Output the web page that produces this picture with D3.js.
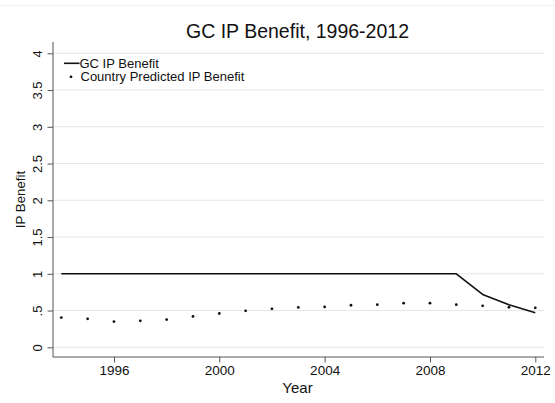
<!DOCTYPE html>
<html>
<head>
<meta charset="utf-8">
<script src="https://cdn.jsdelivr.net/npm/d3@7"></script>
<style>
  html, body { margin: 0; padding: 0; background: #fff; }
  svg { display: block; font-family: "Liberation Sans", Arial, Helvetica, sans-serif; }
</style>
</head>
<body>
<svg id="chart" width="555" height="403"></svg>
<script>
// Annual series, 1994-2012
const years = [1994, 1995, 1996, 1997, 1998, 1999, 2000, 2001, 2002, 2003,
               2004, 2005, 2006, 2007, 2008, 2009, 2010, 2011, 2012];
const gcBenefit = [1, 1, 1, 1, 1, 1, 1, 1, 1, 1,
                   1, 1, 1, 1, 1, 1, 0.72, 0.58, 0.47];
const countryPredicted = [0.405, 0.387, 0.35, 0.36, 0.377, 0.42, 0.46, 0.496, 0.523, 0.543,
                          0.55, 0.572, 0.58, 0.6, 0.6, 0.58, 0.564, 0.545, 0.537];
const xTicks = [1996, 2000, 2004, 2008, 2012];
const yTicks = [0, 0.5, 1, 1.5, 2, 2.5, 3, 3.5, 4];
const yTickLabels = ["0", ".5", "1", "1.5", "2", "2.5", "3", "3.5", "4"];
const legendLabels = ["GC IP Benefit", "Country Predicted IP Benefit"];
const titleText = "GC IP Benefit, 1996-2012";
const xTitle = "Year";
const yTitle = "IP Benefit";

const svg = d3.select("#chart");
const W = 555, H = 403;
const plot = { left: 53, right: 544, top: 42, bottom: 357 };

const x = d3.scaleLinear().domain([1994, 2012]).range([61.3, 535.3]);
const y = d3.scaleLinear().domain([0, 4]).range([347.3, 53.3]);

// faint frame line along the top edge
svg.append("line")
  .attr("x1", 0).attr("x2", W).attr("y1", 5.5).attr("y2", 5.5)
  .attr("stroke", "#f2f2f2").attr("stroke-width", 1);

// horizontal grid lines
svg.append("g").selectAll("line").data(yTicks).join("line")
  .attr("x1", plot.left).attr("x2", plot.right)
  .attr("y1", d => y(d)).attr("y2", d => y(d))
  .attr("stroke", "#e6e6e6").attr("stroke-width", 1);

// y axis
const yAxis = d3.axisLeft(y).tickValues(yTicks)
  .tickFormat((d, i) => yTickLabels[i]).tickSize(5.5).tickSizeOuter(0);
const gy = svg.append("g").attr("transform", `translate(${plot.left},0)`).call(yAxis);
gy.select(".domain").attr("d", `M0,${plot.top}V${plot.bottom}`);
gy.selectAll("line").attr("stroke", "#555");
gy.select(".domain").attr("stroke", "#555");
gy.selectAll("text")
  .attr("font-size", 13).attr("fill", "#111")
  .attr("x", 0).attr("dy", 0)
  .attr("text-anchor", "middle")
  .attr("transform", "translate(-10.7,0) rotate(-90)");

// x axis
const xAxis = d3.axisBottom(x).tickValues(xTicks)
  .tickFormat(d3.format("d")).tickSize(5.5).tickSizeOuter(0);
const gx = svg.append("g").attr("transform", `translate(0,${plot.bottom})`).call(xAxis);
gx.select(".domain").attr("d", `M${plot.left},0H${plot.right}`).attr("stroke", "#555");
gx.selectAll("line").attr("stroke", "#555");
gx.selectAll("text").attr("font-size", 13.5).attr("fill", "#111").attr("y", 8).attr("dy", "0.71em");

// GC benefit line
const pairs = years.map((yr, i) => ({ yr, gc: gcBenefit[i], cp: countryPredicted[i] }));
svg.append("path").datum(pairs)
  .attr("fill", "none").attr("stroke", "#111").attr("stroke-width", 1.6)
  .attr("stroke-linejoin", "round")
  .attr("d", d3.line().x(d => x(d.yr)).y(d => y(d.gc)));

// country predicted points
svg.append("g").selectAll("circle").data(pairs).join("circle")
  .attr("cx", d => x(d.yr)).attr("cy", d => y(d.cp)).attr("r", 1.4)
  .attr("fill", "#111");

// legend
const lg = svg.append("g");
lg.append("line").attr("x1", 64).attr("x2", 79.5).attr("y1", 63.3).attr("y2", 63.3)
  .attr("stroke", "#111").attr("stroke-width", 1.6);
lg.append("text").attr("x", 79.5).attr("y", 67.7).attr("font-size", 13).attr("fill", "#111")
  .text(legendLabels[0]);
lg.append("circle").attr("cx", 71).attr("cy", 76.8).attr("r", 1.4).attr("fill", "#111");
lg.append("text").attr("x", 80.5).attr("y", 81.4).attr("font-size", 13).attr("fill", "#111")
  .text(legendLabels[1]);

// titles
svg.append("text").attr("x", 297.5).attr("y", 37.7)
  .attr("text-anchor", "middle").attr("font-size", 19.5).attr("fill", "#111")
  .text(titleText);
svg.append("text").attr("x", 297.5).attr("y", 393)
  .attr("text-anchor", "middle").attr("font-size", 15).attr("fill", "#111")
  .text(xTitle);
svg.append("text")
  .attr("transform", `translate(25,199.5) rotate(-90)`)
  .attr("text-anchor", "middle").attr("font-size", 13.3).attr("fill", "#111")
  .text(yTitle);
</script>
</body>
</html>
